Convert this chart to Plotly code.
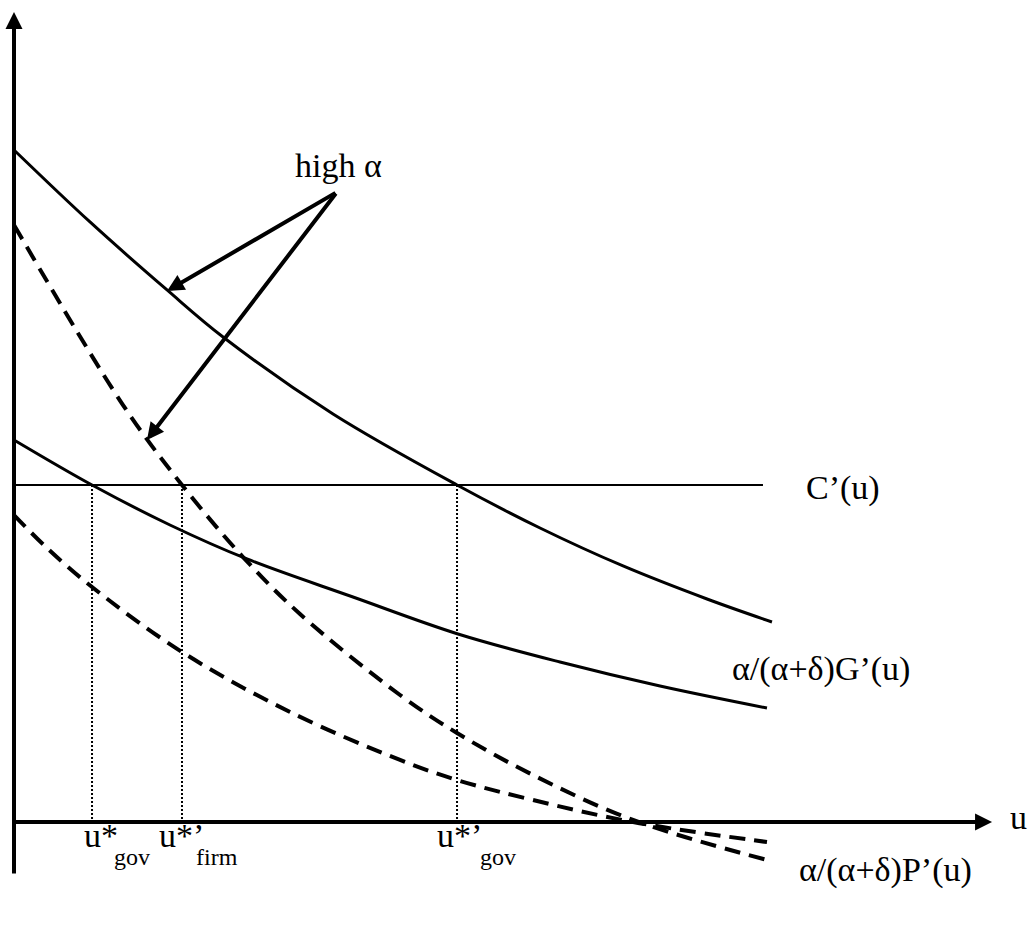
import plotly.graph_objects as go

# ---- data (u on horizontal axis, marginal values on vertical axis) ----
g_high_u = [0, 1.005, 2.024, 2.765, 4.220, 5.860, 6.958, 8.056, 9.167, 10.026]
g_high_v = [10.0, 8.929, 7.917, 7.217, 6.071, 5.015, 4.375, 3.810, 3.318, 2.976]

g_low_u = [0, 1.032, 2.063, 3.082, 4.484, 5.873, 7.222, 8.545, 9.960]
g_low_v = [5.685, 5.015, 4.420, 3.914, 3.348, 2.798, 2.381, 2.024, 1.696]

p_high_u = [0, 1.442, 2.222, 3.029, 3.783, 5.106, 5.860, 6.865, 8.188, 9.960]
p_high_v = [8.884, 6.205, 5.015, 3.943, 3.095, 1.890, 1.324, 0.699, 0.030, -0.565]

p_low_u = [0, 0.437, 1.032, 2.222, 3.651, 5.106, 5.860, 6.865, 8.188, 9.960]
p_low_v = [4.568, 4.077, 3.497, 2.530, 1.637, 0.923, 0.625, 0.327, 0.0, -0.298]

c_level = 5.015
c_u = [0, 9.907]

u_star = [1.032, 2.222, 5.860]
u_star_main = ["u*", "u*\u2019", "u*\u2019"]
u_star_sub = ["gov", "firm", "gov"]

FONT = "Liberation Serif"
FS = 34
SUBFS = 24

fig = go.Figure()

solid = dict(color="black", width=3)
dashed = dict(color="black", width=4, dash="16px,9px")

fig.add_trace(go.Scatter(x=g_high_u, y=g_high_v, mode="lines",
                         line=dict(**solid, shape="spline")))
fig.add_trace(go.Scatter(x=g_low_u, y=g_low_v, mode="lines",
                         line=dict(**solid, shape="spline")))
fig.add_trace(go.Scatter(x=p_high_u, y=p_high_v, mode="lines",
                         line=dict(**dashed, shape="spline")))
fig.add_trace(go.Scatter(x=p_low_u, y=p_low_v, mode="lines",
                         line=dict(**dashed, shape="spline")))
fig.add_trace(go.Scatter(x=c_u, y=[c_level, c_level], mode="lines",
                         line=dict(color="black", width=2)))

for u in u_star:
    fig.add_trace(go.Scatter(x=[u, u], y=[c_level, 0], mode="lines",
                             line=dict(color="black", width=2, dash="2px,2px")))

ann = []
# axes with arrowheads
ann.append(dict(x=0, y=12.054, ax=0, ay=-0.789, xref="x", yref="y", axref="x", ayref="y",
                showarrow=True, arrowhead=2, arrowsize=0.85, arrowwidth=4, arrowcolor="black", text=""))
ann.append(dict(x=12.937, y=0, ax=0, ay=0, xref="x", yref="y", axref="x", ayref="y",
                showarrow=True, arrowhead=2, arrowsize=0.85, arrowwidth=4, arrowcolor="black", text=""))
# "high alpha" arrows
for tx, ty in [(2.024, 7.902), (1.759, 5.685)]:
    ann.append(dict(x=tx, y=ty, ax=4.272, ay=9.375, xref="x", yref="y", axref="x", ayref="y",
                    showarrow=True, arrowhead=2, arrowsize=0.85, arrowwidth=4, arrowcolor="black", text=""))

def label(text, x, y, xanchor="left", size=FS):
    ann.append(dict(x=x, y=y, xref="x", yref="y", text=text, showarrow=False,
                    xanchor=xanchor, yanchor="middle",
                    font=dict(family=FONT, size=size, color="black")))

label("high \u03b1", 3.69, 9.769)
label("C\u2019(u)", 10.45, 4.963)
label("\u03b1/(\u03b1+\u03b4)G\u2019(u)", 11.878, 2.284, xanchor="right")
label("\u03b1/(\u03b1+\u03b4)P\u2019(u)", 10.357, -0.707)
label("u", 13.148, 0.06)

main_left = [0.899, 1.892, 5.569]
sub_left = [1.296, 2.381, 6.138]
for m, s, xl, xs in zip(u_star_main, u_star_sub, main_left, sub_left):
    label(m, xl, -0.201)
    label(s, xs, -0.521, size=SUBFS)

fig.update_layout(
    width=1030, height=930, autosize=False,
    margin=dict(l=0, r=0, t=0, b=0),
    paper_bgcolor="white", plot_bgcolor="white",
    showlegend=False,
    xaxis=dict(range=[-0.1852, 13.439], visible=False),
    yaxis=dict(range=[-1.607, 12.232], visible=False),
    annotations=ann,
)

fig.write_html("out.html")
